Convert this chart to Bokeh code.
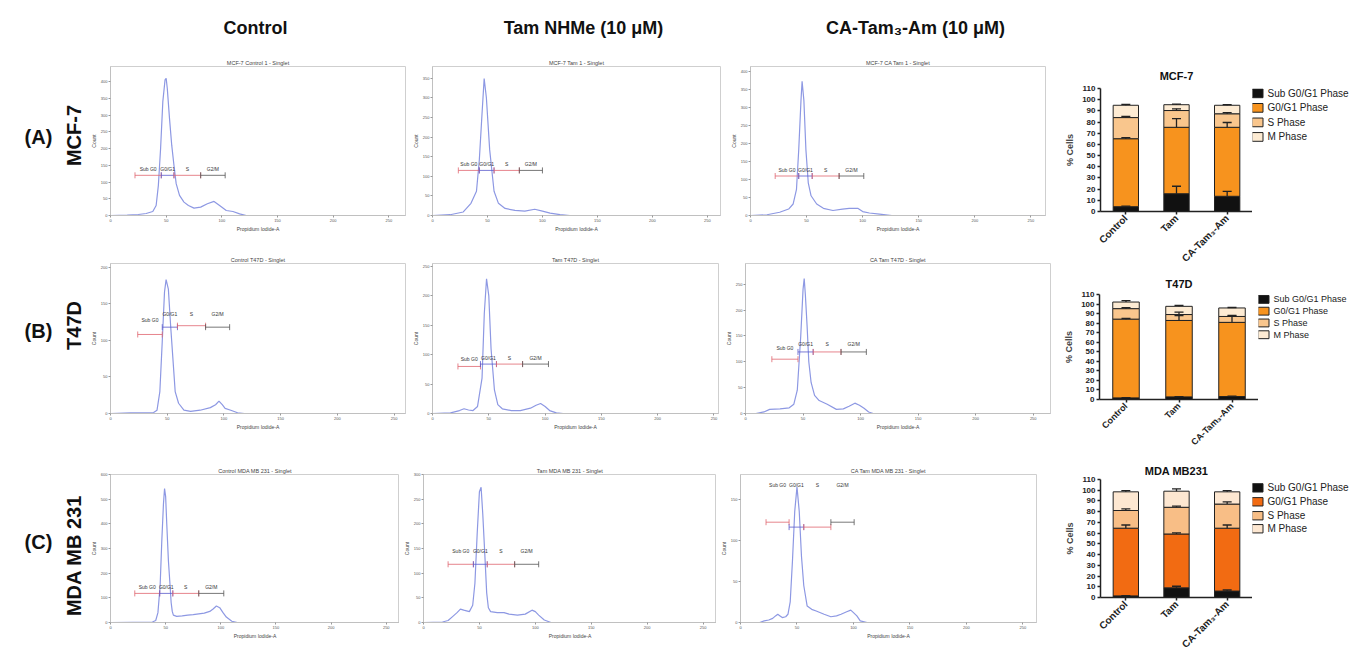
import numpy as np
from bokeh.plotting import figure
from bokeh.models import (Range1d, Label, ColumnDataSource, FixedTicker, SingleIntervalTicker)
from bokeh.layouts import row, column
from bokeh.embed import file_html
from bokeh.resources import INLINE
from bokeh.core.properties import value

FONT = "Liberation Sans"

# ---------------- text ----------------
col_headers = ["Control", "Tam NHMe (10 μM)", "CA-Tam₃-Am (10 μM)"]
row_tags = ["(A)", "(B)", "(C)"]
row_names = ["MCF-7", "T47D", "MDA MB 231"]
gate_names = ["Sub G0", "G0/G1", "S", "G2/M"]
x_ticks = [0, 50, 100, 150, 200, 250]

# ---------------- histogram data (Propidium Iodide-A x1000, Count) ----------------
mcf7_ctrl_title = "MCF-7 Control 1 - Singlet"
mcf7_ctrl_x = [0, 15, 25, 32, 38, 41, 43, 45, 47, 49, 50, 51, 53, 55, 57, 59, 62, 66, 70, 75, 81, 87, 93, 98, 104, 110, 116, 122, 265]
mcf7_ctrl_y = [0, 1, 3, 6, 12, 30, 90, 200, 340, 405, 410, 380, 290, 210, 150, 95, 60, 40, 30, 22, 25, 35, 42, 30, 15, 12, 5, 0, 0]
mcf7_ctrl_gx = [22, 45.6, 57, 81, 103]
mcf7_ctrl_gy = [120, 120, 120, 120]
mcf7_ctrl_ly = [130, 130, 130, 130]

mcf7_tam_title = "MCF-7 Tam 1 - Singlet"
mcf7_tam_x = [0, 16, 28, 35, 40, 42.6, 45, 47, 49, 52, 56, 60, 66, 75, 84, 93, 100, 107, 116, 125, 262]
mcf7_tam_y = [0, 2, 9, 31, 62, 142, 257, 349, 301, 168, 62, 31, 18, 13, 11, 16, 11, 6, 2, 0, 0]
mcf7_tam_gx = [23.5, 42.6, 56, 79, 100]
mcf7_tam_gy = [115, 115, 115, 115]
mcf7_tam_ly = [124, 124, 124, 124]

mcf7_ca_title = "MCF-7 CA Tam 1 - Singlet"
mcf7_ca_x = [0, 14.7, 26, 34, 38, 41, 43, 45, 46, 47.6, 49.4, 51.5, 54, 59, 65, 73.5, 82, 88, 95.6, 100, 106, 115, 126, 263]
mcf7_ca_y = [0, 2, 9, 18, 32, 73, 183, 320, 374, 320, 183, 91, 55, 32, 20, 14, 18, 20, 20, 11, 7, 4, 0, 0]
mcf7_ca_gx = [22, 43, 55, 79, 101]
mcf7_ca_gy = [110, 110, 110, 110]
mcf7_ca_ly = [119, 119, 119, 119]

t47d_ctrl_title = "Control T47D - Singlet"
t47d_ctrl_x = [0, 17.6, 38, 41, 43.5, 45.6, 47.6, 49, 51, 53, 55, 57, 60, 64.7, 70.6, 79, 88, 92.6, 95.6, 98.5, 101, 106, 112, 118, 260]
t47d_ctrl_y = [0, 1, 1.4, 4.5, 30, 98, 166, 183, 170, 120, 75, 30, 14, 4.5, 3, 4.5, 8, 12, 17, 12, 7, 4.5, 1, 0, 0]
t47d_ctrl_gx = [24, 45.6, 59, 83.8, 105]
t47d_ctrl_gy = [108, 118, 120, 118]
t47d_ctrl_ly = [124, 132, 132, 132]

t47d_tam_title = "Tam T47D - Singlet"
t47d_tam_x = [0, 16, 24, 28, 32, 36, 40, 44, 46, 48, 50, 52, 55, 58, 62, 70, 78, 87, 92, 96, 100, 104, 110, 116, 254]
t47d_tam_y = [0, 1, 5, 8, 6, 5, 12, 60, 170, 229, 200, 110, 40, 15, 8, 5, 5, 9, 14, 17, 12, 5, 1, 0, 0]
t47d_tam_gx = [22.6, 42.6, 56.8, 80, 103]
t47d_tam_gy = [80, 84, 84, 84]
t47d_tam_ly = [88, 90, 90, 90]

t47d_ca_title = "CA Tam T47D - Singlet"
t47d_ca_x = [0, 9, 16, 21, 30, 38, 42, 45, 48, 50, 51, 52, 53.5, 55, 57, 60, 64, 71, 79, 85, 90, 95, 99, 103, 107, 111, 265]
t47d_ca_y = [0, 0, 3, 8, 9, 11, 18, 45, 150, 240, 261, 230, 170, 100, 60, 35, 25, 18, 8, 9, 14, 20, 16, 10, 3, 0, 0]
t47d_ca_gx = [22.9, 45.6, 58.8, 83, 105]
t47d_ca_gy = [105, 119, 119, 119]
t47d_ca_ly = [121, 128, 128, 128]

mda_ctrl_title = "Control MDA MB 231 - Singlet"
mda_ctrl_x = [0, 20, 38, 41, 43, 45, 46.5, 48, 49, 50, 51, 52.5, 54, 55, 56, 57, 60, 65, 70, 75, 80, 85, 90, 93, 96, 99, 102, 105, 110, 115, 262]
mda_ctrl_y = [0, 1, 2, 8, 40, 150, 330, 480, 543, 510, 400, 250, 150, 80, 45, 30, 25, 27, 30, 32, 35, 38, 45, 55, 67, 60, 40, 22, 5, 0, 0]
mda_ctrl_gx = [22, 44.6, 56.5, 80, 102.7]
mda_ctrl_gy = [118, 118, 118, 118]
mda_ctrl_ly = [130, 130, 130, 130]

mda_tam_title = "Tam MDA MB 231 - Singlet"
mda_tam_x = [0, 17, 22, 26, 30, 33, 36, 41, 44, 46, 48, 50, 51.5, 53, 55, 56.5, 58, 60, 66, 72, 76.5, 84, 91, 97, 100, 103, 108, 114, 262]
mda_tam_y = [0, 1, 4, 12, 20, 27, 25, 22, 35, 80, 180, 265, 274, 220, 130, 60, 30, 22, 20, 20, 17, 15, 17, 25, 22, 15, 5, 0, 0]
mda_tam_gx = [22, 44.6, 57, 81.5, 103]
mda_tam_gy = [118, 118, 118, 118]
mda_tam_ly = [138, 138, 138, 138]

mda_ca_title = "CA Tam MDA MB 231 - Singlet"
mda_ca_x = [0, 17, 21, 25, 28.5, 31, 33, 35, 37, 40, 42, 44, 46, 48, 50, 52, 54, 56, 59, 63, 67, 74, 80, 85, 89, 94, 97.6, 100, 103, 106, 112, 262]
mda_ca_y = [0, 0, 2, 3, 5, 8, 10, 8, 6, 7, 10, 25, 75, 135, 165, 135, 80, 45, 20, 16, 14, 10, 7, 8, 10, 13, 15, 12, 8, 2, 0, 0]
mda_ca_gx = [22.6, 43, 56, 80, 100.6]
mda_ca_gy = [122, 116, 116, 122]
mda_ca_ly = [163, 163, 163, 163]

# axis extents of each histogram (x max, y max, y tick step)
mcf7_ctrl_ax = (265, 445, 50)
mcf7_tam_ax = (262, 380, 50)
mcf7_ca_ax = (263, 415, 50)
t47d_ctrl_ax = (260, 205, 50)
t47d_tam_ax = (254, 255, 50)
t47d_ca_ax = (265, 290, 50)
mda_ctrl_ax = (262, 600, 100)
mda_tam_ax = (262, 300, 50)
mda_ca_ax = (262, 180, 50)

# ---------------- bar chart data (% cells) ----------------
bar_cats = ["Control", "Tam", "CA-Tam₃-Am"]
phases = ["Sub G0/G1 Phase", "G0/G1 Phase", "S Phase", "M Phase"]

mcf7_sub = [4.3, 15.9, 13.6]
mcf7_g1 = [60.8, 59.4, 61.7]
mcf7_s = [18.9, 15.0, 12.1]
mcf7_m = [11.0, 5.2, 7.6]
mcf7_err = [[0.5, 6.7, 4.4], [1.0, 7.8, 4.3], [1.0, 1.5, 1.0], [0.8, 0.6, 0.6]]

t47d_sub = [1.7, 2.75, 3.1]
t47d_g1 = [82.5, 80.05, 77.7]
t47d_s = [11.0, 6.2, 6.2]
t47d_m = [6.9, 8.6, 8.9]
t47d_err = [[0.3, 0.3, 0.3], [0.7, 5.0, 6.5], [1.0, 2.5, 1.0], [1.4, 1.0, 0.5]]

mda_sub = [1.5, 9.0, 6.0]
mda_g1 = [63.1, 50.2, 58.6]
mda_s = [16.5, 24.9, 22.5]
mda_m = [17.4, 15.0, 11.4]
mda_err = [[0.3, 1.5, 1.0], [3.0, 1.0, 3.0], [1.5, 1.0, 2.0], [1.2, 2.1, 1.2]]

# ---------------- styles ----------------
CURVE = "#8d98e3"
GATE_COLORS = ["#e06670", "#5a5acb", "#e06670", "#555555"]
MCF_COLORS = ["#111111", "#f7931e", "#f9c68d", "#fdebd3"]
MDA_COLORS = ["#111111", "#f26b12", "#f8be86", "#fde7d1"]


def blank(w, h, bt=0, bb=0):
    p = figure(width=w, height=h, x_range=Range1d(0, w), y_range=Range1d(0, h - bt - bb),
               output_backend="svg", toolbar_location=None, min_border=0,
               min_border_top=bt, min_border_bottom=bb,
               x_axis_location=None, y_axis_location=None)
    p.grid.visible = False
    p.outline_line_color = None
    return p


def hist_panel(title, xs, ys, ax, gx, gy, ly, geo):
    (bl, fw, br), (bt, fh, bb) = geo
    xmax, ymax, ystep = ax
    p = figure(width=bl + fw + br, height=bt + fh + bb,
               x_range=Range1d(0, xmax), y_range=Range1d(0, ymax),
               output_backend="svg", toolbar_location=None, title=title,
               min_border_left=bl, min_border_right=br, min_border_top=bt, min_border_bottom=bb)
    p.title.text_font = FONT
    p.title.text_font_size = "5.5px"
    p.title.text_font_style = "normal"
    p.title.text_color = "#444444"
    p.title.align = "center"
    p.title.standoff = 1
    p.grid.visible = False
    p.outline_line_color = "#cfcfcf"
    p.xaxis.ticker = FixedTicker(ticks=x_ticks)
    p.yaxis.ticker = SingleIntervalTicker(interval=ystep)
    p.xaxis.axis_label = "Propidium Iodide-A"
    p.yaxis.axis_label = "Count"
    for a in (p.xaxis[0], p.yaxis[0]):
        a.major_label_text_font = FONT
        a.major_label_text_font_size = "4px"
        a.major_label_text_color = "#555555"
        a.axis_line_color = "#c0c0c0"
        a.major_tick_line_color = "#999999"
        a.major_tick_out = 2
        a.major_tick_in = 0
        a.minor_tick_out = 0
        a.minor_tick_in = 0
        a.major_label_standoff = 1
        a.axis_label_text_font = FONT
        a.axis_label_text_font_size = "5px"
        a.axis_label_text_font_style = "normal"
        a.axis_label_text_color = "#444444"
        a.axis_label_standoff = 1
    p.line(xs, ys, line_color=CURVE, line_width=1.2)
    for k in range(4):
        x0, x1 = gx[k], gx[k + 1]
        c = GATE_COLORS[k]
        p.segment(x0=[x0], y0=[gy[k]], x1=[x1], y1=[gy[k]], line_color=c, line_width=0.8)
        p.scatter(x=[x0, x1], y=[gy[k], gy[k]], marker="dash", angle=np.pi / 2, size=6,
                  line_color=c, line_width=0.8)
        p.text(x=[(x0 + x1) / 2], y=[ly[k]], text=[gate_names[k]], text_font=value(FONT),
               text_font_size="5px", text_align="center", text_baseline="bottom", text_color="#333333")
    p.add_layout(Label(x=xmax, y=0, text="x1000", text_font=FONT, text_font_size="3.5px",
                       text_color="#555555", text_align="right", y_offset=-9))
    return p


def bar_panel(title, sub, g1, s, m, errs, colors, geo, label_font, title_standoff):
    (bl, fw, br), (bt, fh, bb) = geo
    pos = [i + 0.5 for i in range(len(bar_cats))]
    src = ColumnDataSource(dict(x=pos, sub=sub, g1=g1, s=s, m=m))
    p = figure(width=bl + fw + br, height=bt + fh + bb,
               x_range=Range1d(0, len(bar_cats)), y_range=Range1d(0, 110),
               output_backend="svg", toolbar_location=None, title=title,
               min_border_left=bl, min_border_right=br, min_border_top=bt, min_border_bottom=bb)
    p.title.text_font = FONT
    p.title.text_font_size = "11px"
    p.title.text_font_style = "bold"
    p.title.text_color = "#111111"
    p.title.align = "center"
    p.title.standoff = title_standoff
    p.grid.visible = False
    p.outline_line_color = None
    p.vbar_stack(["sub", "g1", "s", "m"], x="x", width=0.5, fill_color=colors,
                 line_color="#222222", line_width=1, source=src)
    cum = np.cumsum(np.array([sub, g1, s, m]), axis=0)
    for k in range(4):
        top = cum[k]
        hi = top + np.array(errs[k])
        esrc = ColumnDataSource(dict(x=pos, lo=list(top), hi=list(hi)))
        p.segment(x0="x", y0="lo", x1="x", y1="hi", source=esrc, line_color="#222222", line_width=1.3)
        p.scatter(x="x", y="hi", source=esrc, marker="dash", size=9, line_color="#222222", line_width=1.3)
    p.xaxis.ticker = FixedTicker(ticks=pos)
    p.xaxis.major_label_overrides = {pv: c for pv, c in zip(pos, bar_cats)}
    p.yaxis.ticker = SingleIntervalTicker(interval=10)
    p.yaxis.axis_label = "% Cells"
    for a in (p.xaxis[0], p.yaxis[0]):
        a.major_label_text_font = FONT
        a.major_label_text_font_style = "bold"
        a.major_label_text_color = "#222222"
        a.axis_line_color = "#222222"
        a.axis_line_width = 1.5
        a.major_tick_line_color = "#222222"
        a.major_tick_line_width = 1.5
        a.major_tick_out = 3
        a.major_tick_in = 0
        a.minor_tick_out = 0
        a.minor_tick_in = 0
        a.major_label_standoff = 2
    p.yaxis.major_label_text_font_size = "8px"
    p.xaxis.major_label_text_font_size = label_font
    p.xaxis.major_label_orientation = 0.785
    p.yaxis.axis_label_text_font = FONT
    p.yaxis.axis_label_text_font_size = "9px"
    p.yaxis.axis_label_text_font_style = "bold"
    p.yaxis.axis_label_standoff = 4
    return p


def legend_fig(w, geo, colors, offsets, font, sw_h):
    (bt, fh, bb) = geo
    q = blank(w, bt + fh + bb, bt, bb)
    ys = [fh - o for o in offsets]
    q.rect(x=[5] * len(phases), y=ys, width=11, height=sw_h, fill_color=colors,
           line_color="#222222", line_width=1)
    q.text(x=[15] * len(phases), y=ys, text=phases, text_font=value(FONT), text_font_size=font,
           text_baseline="middle", text_color="#222222")
    return q


# ---------------- header & row labels ----------------
header = blank(1060, 53)
for txt, cx in zip(col_headers, [255, 583, 915]):
    header.add_layout(Label(x=cx, y=26, x_units="screen", y_units="screen", text=txt,
                            text_font=FONT, text_font_size="18px", text_font_style="bold",
                            text_align="center", text_baseline="middle", text_color="#111111"))

labels = blank(86, 603)
for tag, name, ty, ny in zip(row_tags, row_names, [520, 326, 115], [521, 331, 101]):
    labels.add_layout(Label(x=38, y=ty, x_units="screen", y_units="screen", text=tag,
                            text_font=FONT, text_font_size="20px", text_font_style="bold",
                            text_align="center", text_baseline="middle", text_color="#111111"))
    labels.add_layout(Label(x=73, y=ny, x_units="screen", y_units="screen", text=name, angle=np.pi / 2,
                            text_font=FONT, text_font_size="20px", text_font_style="bold",
                            text_align="center", text_baseline="middle", text_color="#111111"))

# ---------------- histograms ----------------
r1v = (13, 149, 30)
r2v = (18, 150, 29)
r3v = (32, 148, 34)
h11 = hist_panel(mcf7_ctrl_title, mcf7_ctrl_x, mcf7_ctrl_y, mcf7_ctrl_ax, mcf7_ctrl_gx, mcf7_ctrl_gy, mcf7_ctrl_ly, ((24, 295, 3), r1v))
h12 = hist_panel(mcf7_tam_title, mcf7_tam_x, mcf7_tam_y, mcf7_tam_ax, mcf7_tam_gx, mcf7_tam_gy, mcf7_tam_ly, ((24, 288, 6), r1v))
h13 = hist_panel(mcf7_ca_title, mcf7_ca_x, mcf7_ca_y, mcf7_ca_ax, mcf7_ca_gx, mcf7_ca_gy, mcf7_ca_ly, ((24, 295, 15), r1v))
h21 = hist_panel(t47d_ctrl_title, t47d_ctrl_x, t47d_ctrl_y, t47d_ctrl_ax, t47d_ctrl_gx, t47d_ctrl_gy, t47d_ctrl_ly, ((24, 295, 3), r2v))
h22 = hist_panel(t47d_tam_title, t47d_tam_x, t47d_tam_y, t47d_tam_ax, t47d_tam_gx, t47d_tam_gy, t47d_tam_ly, ((24, 286, 3), r2v))
h23 = hist_panel(t47d_ca_title, t47d_ca_x, t47d_ca_y, t47d_ca_ax, t47d_ca_gx, t47d_ca_gy, t47d_ca_ly, ((24, 305, 10), r2v))
h31 = hist_panel(mda_ctrl_title, mda_ctrl_x, mda_ctrl_y, mda_ctrl_ax, mda_ctrl_gx, mda_ctrl_gy, mda_ctrl_ly, ((24, 289, 0), r3v))
h32 = hist_panel(mda_tam_title, mda_tam_x, mda_tam_y, mda_tam_ax, mda_tam_gx, mda_tam_gy, mda_tam_ly, ((24, 293, 0), r3v))
h33 = hist_panel(mda_ca_title, mda_ca_x, mda_ca_y, mda_ca_ax, mda_ca_gx, mda_ca_gy, mda_ca_ly, ((24, 296, 24), r3v))

# ---------------- bar charts (each with its legend beside it) ----------------
g1v = (88, 127, 55)
g2v = (24, 107, 52)
g3v = (26, 127, 50)
b1 = bar_panel("MCF-7", mcf7_sub, mcf7_g1, mcf7_s, mcf7_m, mcf7_err, MCF_COLORS,
               ((40, 152, 0), g1v), "10px", 14)
l1 = legend_fig(98, g1v, MCF_COLORS, [5, 20, 35, 50], "10px", 9)
b2 = bar_panel("T47D", t47d_sub, t47d_g1, t47d_s, t47d_m, t47d_err, MCF_COLORS,
               ((39, 159, 0), g2v), "9px", 9)
l2 = legend_fig(92, g2v, MCF_COLORS, [5, 17, 29, 41], "9px", 8)
b3 = bar_panel("MDA MB231", mda_sub, mda_g1, mda_s, mda_m, mda_err, MDA_COLORS,
               ((40, 152, 0), g3v), "10px", 5)
l3 = legend_fig(98, g3v, MDA_COLORS, [9, 24, 39, 53], "10px", 9)

grid = column(row(h11, h12, h13), row(h21, h22, h23), row(h31, h32, h33))
left = column(header, row(labels, grid))
right = column(row(b1, l1), row(b2, l2), row(b3, l3))
layout = row(left, right)

open("out.html", "w").write(file_html(layout, INLINE))
